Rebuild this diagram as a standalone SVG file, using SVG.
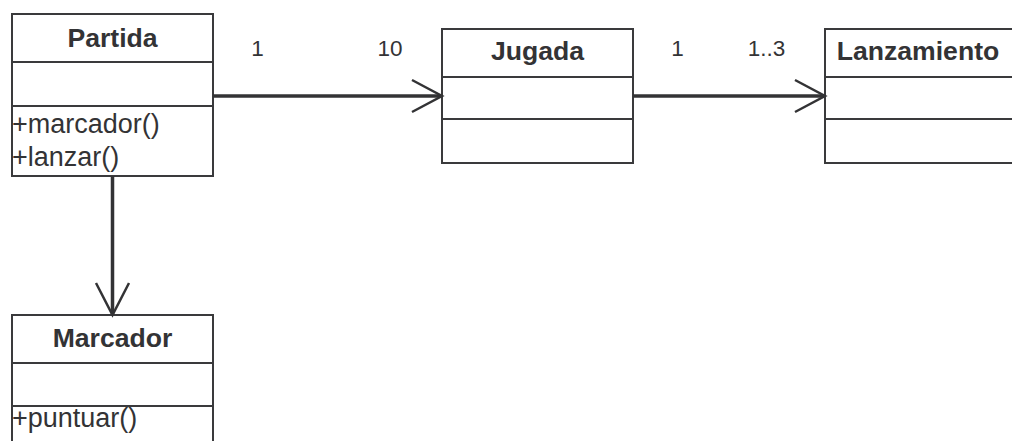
<svg xmlns="http://www.w3.org/2000/svg" width="1012" height="441" viewBox="0 0 1012 441">
  <style>
    .box { fill: #ffffff; stroke: #3a3a3c; stroke-width: 2; }
    .sep { stroke: #3a3a3c; stroke-width: 2; }
    .title { font-family: "Liberation Sans", Arial, sans-serif; font-weight: bold; font-size: 26.6px; fill: #333335; text-anchor: middle; }
    .op { font-family: "Liberation Sans", Arial, sans-serif; font-size: 27px; fill: #333335; }
    .mult { font-family: "Liberation Sans", Arial, sans-serif; font-size: 22.5px; fill: #333335; text-anchor: middle; }
    .edge { stroke: #333335; stroke-width: 3.5; fill: none; }
    .head { stroke: #333335; stroke-width: 2.5; fill: none; stroke-linejoin: miter; }
  </style>
  <rect width="1012" height="441" fill="#ffffff"/>

  <g id="partida">
    <rect class="box" x="12" y="14" width="201" height="162"/>
    <line class="sep" x1="12" y1="62" x2="213" y2="62"/>
    <line class="sep" x1="12" y1="106" x2="213" y2="106"/>
    <text class="title" x="112.5" y="46.5">Partida</text>
    <text class="op" x="12" y="132.5">+marcador()</text>
    <text class="op" x="12" y="165.5">+lanzar()</text>
  </g>

  <g id="jugada">
    <rect class="box" x="442" y="29" width="191" height="134"/>
    <line class="sep" x1="442" y1="77" x2="633" y2="77"/>
    <line class="sep" x1="442" y1="119" x2="633" y2="119"/>
    <text class="title" x="537.5" y="60">Jugada</text>
  </g>

  <g id="lanzamiento">
    <rect class="box" x="825" y="29" width="191" height="134"/>
    <line class="sep" x1="825" y1="77" x2="1016" y2="77"/>
    <line class="sep" x1="825" y1="119" x2="1016" y2="119"/>
    <text class="title" x="918" y="60">Lanzamiento</text>
  </g>

  <g id="marcador">
    <rect class="box" x="12" y="315" width="201" height="140"/>
    <line class="sep" x1="12" y1="363" x2="213" y2="363"/>
    <line class="sep" x1="12" y1="406" x2="213" y2="406"/>
    <text class="title" x="112.5" y="347">Marcador</text>
    <text class="op" x="12" y="427">+puntuar()</text>
  </g>

  <g id="connectors">
    <!-- Partida to Jugada -->
    <line class="edge" x1="213" y1="96" x2="441" y2="96"/>
    <polyline class="head" points="412,80 442,96 412,112"/>
    <text class="mult" x="257.5" y="56">1</text>
    <text class="mult" x="390" y="56">10</text>

    <!-- Jugada to Lanzamiento -->
    <line class="edge" x1="633" y1="96" x2="824" y2="96"/>
    <polyline class="head" points="795,80 825,96 795,112"/>
    <text class="mult" x="677.5" y="56">1</text>
    <text class="mult" x="766.5" y="56">1..3</text>

    <!-- Partida to Marcador -->
    <line class="edge" x1="112.5" y1="176" x2="112.5" y2="314"/>
    <polyline class="head" points="96,283 112.5,315 129,283"/>
  </g>
</svg>
